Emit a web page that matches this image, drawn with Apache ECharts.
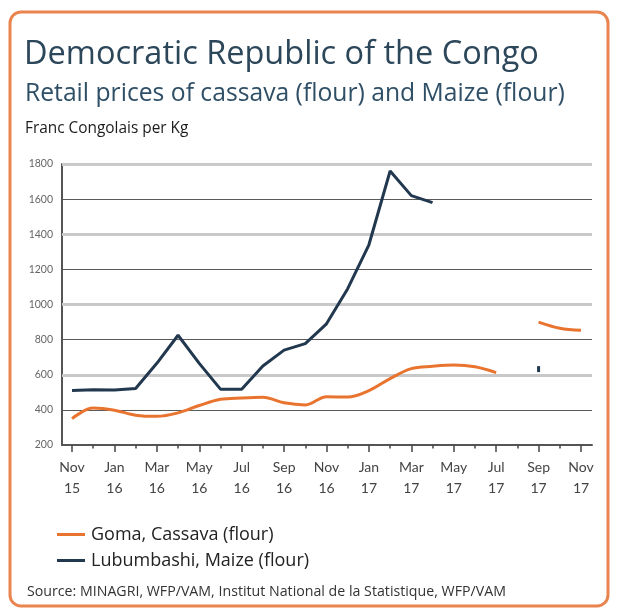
<!DOCTYPE html>
<html>
<head>
<meta charset="utf-8">
<script src="https://cdn.jsdelivr.net/npm/echarts@6/dist/echarts.min.js"></script>
<style>
  html, body { margin: 0; padding: 0; background: #ffffff; }
  #chart { width: 618px; height: 615px; }
</style>
</head>
<body>
<div id="chart"></div>
<script>
// ---- Data ----
const months = ['Nov\n15','Dec\n15','Jan\n16','Feb\n16','Mar\n16','Apr\n16','May\n16','Jun\n16','Jul\n16','Aug\n16','Sep\n16','Oct\n16',
                'Nov\n16','Dec\n16','Jan\n17','Feb\n17','Mar\n17','Apr\n17','May\n17','Jun\n17','Jul\n17','Aug\n17','Sep\n17','Oct\n17','Nov\n17'];
const gomaCassava = [350, 410, 398, 370, 363, 383, 425, 460, 468, 472, 440, 428,
                     475, 473, 510, 578, 635, 648, 655, 645, 612, null, 900, 865, 853];
const lubumbashiMaize = [510, 515, 513, 522, 665, 825, 665, 518, 518, 650, 740, 777,
                         890, 1090, 1340, 1760, 1620, 1580, null, null, null, null, 632, null, null];
const yMin = 200, yMax = 1800, yStep = 200;
const thickGridValues = [600, 1000, 1400, 1800];
const seriesNames = ['Goma, Cassava (flour)', 'Lubumbashi, Maize (flour)'];
const titleText = 'Democratic Republic of the Congo';
const subtitleText = 'Retail prices of cassava (flour) and Maize (flour)';
const unitText = 'Franc Congolais per Kg';
const sourceText = 'Source: MINAGRI, WFP/VAM, Institut National de la Statistique, WFP/VAM';

const ORANGE = '#e8742f';
const NAVY = '#22384f';
const FONT = '"Open Sans", Lato, sans-serif';
const AXFONT = 'Lato, "Open Sans", sans-serif';

const chart = echarts.init(document.getElementById('chart'), null, { renderer: 'canvas' });

const maizeData = lubumbashiMaize.map((v, i) => {
  const prevNull = i === 0 || lubumbashiMaize[i - 1] == null;
  const nextNull = i === lubumbashiMaize.length - 1 || lubumbashiMaize[i + 1] == null;
  if (v != null && prevNull && nextNull) {
    return { value: v, symbol: 'rect', symbolSize: [3, 6], itemStyle: { color: NAVY } };
  }
  return v;
});

const option = {
  animation: false,
  backgroundColor: '#ffffff',
  graphic: {
    elements: [
      { type: 'rect', z: -10, silent: true,
        shape: { x: 10, y: 12, width: 598, height: 594, r: 11 },
        style: { fill: 'none', stroke: '#e9844f', lineWidth: 3 } },
      { type: 'text', x: 24, y: 55, silent: true,
        style: { text: titleText, fontSize: 32.5, fontFamily: FONT, fill: '#2c465a', verticalAlign: 'middle' } },
      { type: 'text', x: 25, y: 94, silent: true,
        style: { text: subtitleText, fontSize: 24.7, fontFamily: FONT, fill: '#2f4f66', verticalAlign: 'middle' } },
      { type: 'text', x: 25, y: 129, silent: true,
        style: { text: unitText, fontSize: 15.4, fontFamily: FONT, fill: '#1c1c1c', verticalAlign: 'middle' } },
      { type: 'text', x: 27, y: 592, silent: true,
        style: { text: sourceText, fontSize: 14.2, fontFamily: FONT, fill: '#333333', verticalAlign: 'middle' } }
    ]
  },
  legend: {
    data: seriesNames,
    orient: 'vertical',
    left: 52,
    top: 519,
    icon: 'rect',
    itemWidth: 28,
    itemHeight: 3,
    itemGap: 5,
    textStyle: { fontSize: 18, fontFamily: FONT, color: '#222', lineHeight: 21, padding: [0, 0, 0, 1] }
  },
  grid: [
    { left: 62, top: 164, width: 530, height: 281 },
    { left: 72, top: 164, width: 509, height: 281 }
  ],
  xAxis: [
    { gridIndex: 0, type: 'value', min: 0, max: 1,
      axisLine: { show: true, lineStyle: { color: '#555', width: 2 } },
      axisTick: { show: false }, axisLabel: { show: false }, splitLine: { show: false } },
    { gridIndex: 1, type: 'category', data: months, boundaryGap: false, position: 'bottom', offset: 0,
      axisLine: { show: false },
      axisTick: { show: true, interval: 1, length: 7, lineStyle: { color: '#444', width: 1.5 } },
      axisLabel: { interval: 1, fontSize: 14, lineHeight: 21, margin: 12, color: '#444', fontFamily: AXFONT },
      splitLine: { show: false } },
    { gridIndex: 1, type: 'category', data: months, boundaryGap: false, position: 'bottom', offset: 0,
      axisLine: { show: false },
      axisTick: { show: true, interval: 0, length: 3.5, lineStyle: { color: '#444', width: 1.5 } },
      axisLabel: { show: false }, splitLine: { show: false } }
  ],
  yAxis: [
    { gridIndex: 0, type: 'value', min: yMin, max: yMax, interval: yStep,
      axisLine: { show: true, lineStyle: { color: '#555', width: 2 } },
      axisTick: { show: false },
      axisLabel: { fontSize: 10.5, color: '#666', margin: 9, fontFamily: AXFONT, formatter: v => String(v) },
      splitLine: { show: true, lineStyle: { color: '#5a5a5a', width: 1 } } },
    { gridIndex: 1, type: 'value', min: yMin, max: yMax, interval: yStep, show: false,
      splitLine: { show: false } }
  ],
  series: [
    { name: '_grid', type: 'line', xAxisIndex: 0, yAxisIndex: 0, data: [], z: 1, silent: true,
      markLine: { symbol: 'none', silent: true, label: { show: false },
        lineStyle: { color: '#c9c9c9', width: 3, type: 'solid' },
        data: thickGridValues.map(v => ({ yAxis: v })) } },
    { name: seriesNames[0], type: 'line', xAxisIndex: 1, yAxisIndex: 1, data: gomaCassava,
      color: ORANGE, smooth: 0.35, symbol: 'none', connectNulls: false, z: 5,
      lineStyle: { color: ORANGE, width: 3 } },
    { name: seriesNames[1], type: 'line', xAxisIndex: 1, yAxisIndex: 1, data: maizeData,
      color: NAVY, symbol: 'none', showSymbol: true, connectNulls: false, z: 6,
      lineStyle: { color: NAVY, width: 3 } }
  ]
};
chart.setOption(option);
</script>
</body>
</html>
